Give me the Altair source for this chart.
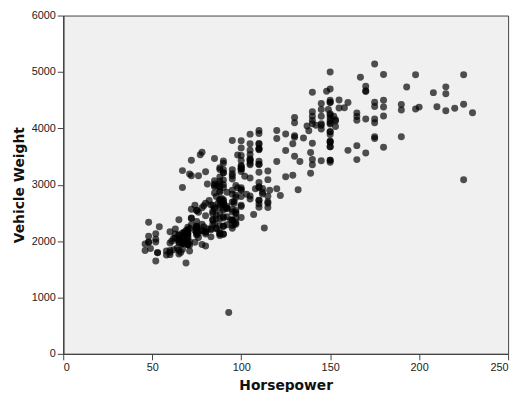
import altair as alt
import pandas as pd

# Horsepower and vehicle weight (lbs), grouped roughly by model year
hp_70 = [130, 165, 150, 150, 140, 198, 220, 215, 225, 190, 170, 160, 150, 225,
         115, 165, 153, 175, 175, 140, 95, 95, 97, 85, 88, 46, 87, 90, 95, 113,
         90, 215, 200, 210, 193, 48]
wt_70 = [3504, 3693, 3436, 3433, 3449, 4341, 4354, 4312, 4425, 3850, 3563, 3609, 3761, 3086,
         3090, 4142, 4034, 4166, 3850, 3353, 2372, 2833, 2774, 2587, 2130, 1835, 2672, 2430, 2375, 2234,
         2648, 4615, 4376, 4382, 4732, 1978]

hp_71 = [88, 90, 95, 100, 105, 100, 88, 100, 165, 175, 153, 150, 180, 170, 175,
         110, 72, 100, 88, 86, 90, 70, 76, 65, 69, 60, 70, 95, 80, 54, 90, 86]
wt_71 = [2130, 2264, 2228, 2634, 3439, 3329, 3302, 3288, 4209, 4464, 4154, 4096, 4955, 4746, 5140,
         2962, 2408, 3282, 3139, 2220, 2123, 2074, 2065, 1773, 1613, 1834, 1955, 2278, 2126, 2254, 2408, 2226]

hp_72 = [165, 175, 150, 153, 150, 208, 155, 160, 190, 97, 150, 130, 140, 150,
         112, 76, 87, 69, 86, 92, 97, 80, 88]
wt_72 = [4274, 4385, 4135, 4129, 3672, 4633, 4502, 4456, 4422, 2330, 3892, 4098, 4294, 4077,
         2933, 2511, 2979, 2189, 2395, 2288, 2506, 2164, 2100]

hp_73 = [175, 150, 145, 137, 150, 198, 150, 158, 150, 215, 225, 175, 105, 100, 100,
         88, 95, 46, 150, 167, 170, 180, 100, 88, 72, 94, 90, 85, 107, 90,
         145, 230, 49, 75, 91, 112, 150, 110, 122, 180]
wt_73 = [4100, 3672, 3988, 4042, 3777, 4952, 4464, 4363, 4237, 4735, 4951, 3821, 3121, 3278, 2945,
         3021, 2904, 1950, 4997, 4906, 4654, 4499, 2789, 2279, 2401, 2379, 2124, 2310, 2472, 2265,
         4082, 4278, 1867, 2158, 2582, 2868, 3399, 2660, 2807, 3664]

hp_74 = [95, 100, 100, 67, 80, 65, 75, 100, 110, 105, 140, 150, 150, 140, 150,
         83, 67, 78, 52, 61, 75, 75, 75, 97, 93, 67]
wt_74 = [3102, 2901, 3336, 1950, 2451, 1836, 2542, 3781, 3632, 3613, 4141, 4699, 4457, 4638, 4257,
         2219, 1963, 2300, 1649, 2003, 2125, 2108, 2246, 2489, 732, 2000]

hp_75 = [95, 105, 72, 72, 170, 145, 150, 148, 110, 105, 110, 95, 110, 110, 129,
         75, 83, 100, 78, 96, 71, 97, 97, 70, 90, 95, 88, 98, 115, 53]
wt_75 = [3264, 3459, 3432, 3158, 4668, 4440, 4498, 4657, 3907, 3897, 3730, 3785, 3039, 3221, 3169,
         2171, 2639, 2914, 2592, 2702, 2223, 2545, 2984, 1937, 3211, 2694, 2957, 2945, 2671, 1795]

hp_76 = [86, 81, 92, 79, 83, 140, 150, 120, 152, 100, 105, 81, 90, 52, 60, 70, 53,
         100, 78, 110, 95, 71, 70, 75, 72, 102, 150, 88, 108, 120, 180, 145, 130, 150]
wt_76 = [2464, 2220, 2572, 2255, 2202, 4215, 4190, 3962, 4215, 3233, 3353, 3012, 3085, 2035, 2164, 1937, 1795,
         3651, 3574, 3645, 3193, 1825, 1990, 2155, 2565, 3150, 3940, 3270, 2930, 3820, 4380, 4055, 3870, 3755]

hp_77 = [68, 80, 58, 96, 70, 145, 110, 145, 130, 110, 105, 100, 98, 180, 170, 190, 149,
         78, 88, 75, 89, 63, 83, 67, 78, 97, 110, 110]
wt_77 = [2045, 2155, 1825, 2300, 1945, 4335, 3960, 4215, 4190, 3720, 3430, 3520, 3525, 4220, 4165, 4325, 4335,
         1940, 2740, 2265, 2755, 2051, 2075, 1985, 2190, 2815, 2600, 2720]

hp_78 = [48, 66, 52, 70, 60, 110, 140, 139, 105, 95, 85, 88, 100, 90, 105, 85, 110, 120,
         145, 165, 139, 140, 68, 95, 97, 75, 95, 105, 85, 97, 103, 125, 115, 133, 71, 68]
wt_78 = [1985, 1800, 1985, 2070, 1800, 3365, 3735, 3570, 3535, 3155, 2965, 2720, 3430, 3210, 3380, 3070, 3620, 3410,
         3425, 3445, 3205, 4080, 2155, 2560, 2300, 2230, 2515, 2745, 2855, 2405, 2830, 3140, 2795, 3410, 1990, 2135]

hp_79 = [115, 85, 88, 90, 110, 130, 129, 138, 135, 155, 142, 125, 150, 71, 65,
         80, 80, 77, 125, 71, 90, 70, 70, 65, 69, 90, 115, 115, 90]
wt_79 = [3245, 2990, 2890, 3265, 3360, 3840, 3725, 3955, 3830, 4360, 4054, 3605, 3940, 1925, 1975,
         1915, 2670, 3530, 3900, 3190, 3420, 2200, 2150, 2020, 2130, 2670, 2595, 2700, 2556]

hp_80 = [76, 60, 70, 65, 90, 88, 90, 90, 78, 90, 75, 92, 75, 65, 105, 65, 48, 48,
         67, 67, 67, 67, 62, 132, 100, 88, 72]
wt_80 = [2144, 1968, 2120, 2019, 2678, 2870, 3003, 3381, 2188, 2711, 2542, 2434, 2265, 2110, 2800, 2110, 2085, 2335,
         2950, 3250, 1850, 2145, 1845, 2910, 2420, 2500, 2290]

hp_81 = [84, 84, 92, 110, 84, 58, 64, 60, 67, 65, 62, 68, 63, 65, 65, 74, 75, 75,
         100, 74, 80, 76, 116, 120, 110, 105, 88, 85]
wt_81 = [2490, 2635, 2620, 2725, 2385, 1755, 1875, 1760, 2065, 1975, 2050, 1985, 2215, 2045, 2380, 2190, 2210, 2350,
         2615, 2635, 3230, 3160, 2900, 2930, 3415, 3725, 3060, 3465]

hp_82 = [88, 88, 88, 85, 84, 90, 92, 74, 68, 68, 63, 70, 88, 75, 70, 67, 67, 67,
         110, 85, 92, 112, 96, 84, 90, 86, 52, 84, 79, 82]
wt_82 = [2605, 2640, 2395, 2575, 2525, 2735, 2865, 1980, 2025, 1970, 2125, 2125, 2160, 2205, 2245, 1965, 1965, 1995,
         2945, 3015, 2585, 2835, 2665, 2370, 2950, 2790, 2130, 2295, 2625, 2720]

horsepower = (hp_70 + hp_71 + hp_72 + hp_73 + hp_74 + hp_75 + hp_76 + hp_77
              + hp_78 + hp_79 + hp_80 + hp_81 + hp_82)
weight = (wt_70 + wt_71 + wt_72 + wt_73 + wt_74 + wt_75 + wt_76 + wt_77
          + wt_78 + wt_79 + wt_80 + wt_81 + wt_82)
assert len(horsepower) == len(weight)

x_ticks = [0, 50, 100, 150, 200, 250]
y_ticks = [0, 1000, 2000, 3000, 4000, 5000, 6000]

data = pd.DataFrame({'Horsepower': horsepower, 'Vehicle Weight': weight})

scatter = alt.Chart(data).mark_circle(
    size=50,
    color='black',
    opacity=0.68
).encode(
    x=alt.X('Horsepower:Q',
            scale=alt.Scale(domain=[0, 250], nice=False),
            axis=alt.Axis(values=x_ticks, format='d', title='Horsepower', titlePadding=6)),
    y=alt.Y('Vehicle Weight:Q',
            scale=alt.Scale(domain=[0, 6000], nice=False),
            axis=alt.Axis(values=y_ticks, format='d', title='Vehicle Weight', titlePadding=5))
).properties(
    width=451,
    height=343,
    autosize=alt.AutoSizeParams(type='none'),
    padding={'left': 56, 'top': 5, 'right': 8, 'bottom': 36}
).configure_view(
    fill='#f0f0f0',
    stroke='#444444',
    strokeWidth=1
).configure_axis(
    grid=False,
    domainColor='#444444',
    domainWidth=1.5,
    tickColor='#444444',
    tickSize=6,
    labelFont='Liberation Sans',
    labelFontSize=11,
    labelColor='#222222',
    labelPadding=2,
    titleFont='DejaVu Sans',
    titleFontSize=14,
    titleFontWeight='bold',
    titleColor='#111111'
)

scatter.save('out.html', embed_options={'renderer': 'svg', 'actions': False})
